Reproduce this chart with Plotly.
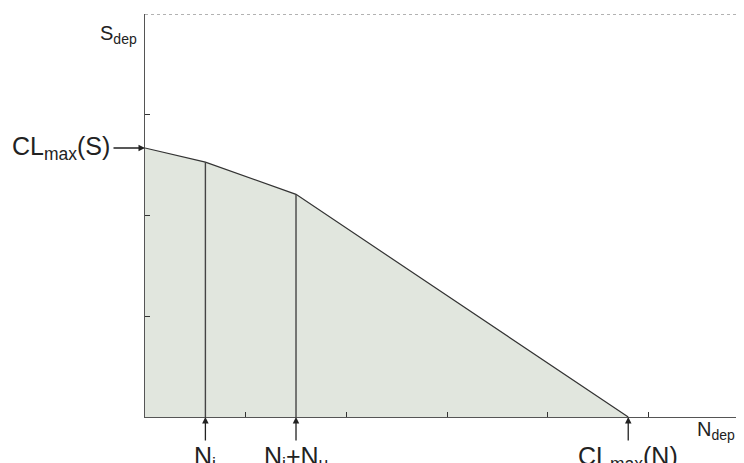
import plotly.graph_objects as go

# Data (in axis units; tick spacing = 1)
x_pts = [0, 0.6, 1.5, 4.8]
y_pts = [2.67, 2.53, 2.21, 0]
x_labels = ["N<sub>i</sub>", "N<sub>i</sub>+N<sub>u</sub>", "CL<sub>max</sub>(N)"]
x_label_pos = [x_pts[1], x_pts[2], x_pts[3]]
y_label = "CL<sub>max</sub>(S)"
x_title = "N<sub>dep</sub>"
y_title = "S<sub>dep</sub>"
x_max = 5.95
y_max = 4

FONT = "Liberation Sans, Arial, sans-serif"
fig = go.Figure()

fig.add_trace(go.Scatter(
    x=x_pts, y=y_pts, mode="lines", fill="tozeroy",
    fillcolor="rgb(225,230,222)", line=dict(color="#333333", width=1.2),
    hoverinfo="skip", showlegend=False))

for i in (1, 2):
    fig.add_trace(go.Scatter(
        x=[x_pts[i], x_pts[i]], y=[0, y_pts[i]], mode="lines",
        line=dict(color="#444444", width=1.4), hoverinfo="skip", showlegend=False))

# top dotted border
fig.add_shape(type="line", xref="x", yref="y", x0=0, x1=x_max, y0=y_max, y1=y_max,
              line=dict(color="#999999", width=1.5, dash="dot"))

annotations = []
annotations.append(dict(x=0, y=y_pts[0], xref="x", yref="y", text=y_label,
                        showarrow=True, ax=-84, ay=0, arrowhead=2, arrowsize=1,
                        arrowwidth=1.3, arrowcolor="#222222", borderpad=3,
                        font=dict(family=FONT, size=25, color="#222222")))
for xp, lab in zip(x_label_pos, x_labels):
    annotations.append(dict(x=xp, y=0, xref="x", yref="y", text=lab,
                            showarrow=True, ax=0, ay=41, arrowhead=2, arrowsize=1,
                            arrowwidth=1.3, arrowcolor="#222222", borderpad=1,
                            font=dict(family=FONT, size=25, color="#222222")))
annotations.append(dict(x=1, y=0, xref="paper", yref="paper", text=x_title,
                        showarrow=False, xanchor="right", yanchor="top", xshift=-7, yshift=1,
                        font=dict(family=FONT, size=20, color="#222222")))
annotations.append(dict(x=0, y=1, xref="paper", yref="paper", text=y_title,
                        showarrow=False, xanchor="right", yanchor="top", xshift=-6, yshift=-6,
                        font=dict(family=FONT, size=20, color="#222222")))

fig.update_layout(
    width=736, height=455,
    margin=dict(l=137, r=0, t=6, b=46),
    paper_bgcolor="white", plot_bgcolor="white",
    annotations=annotations,
    xaxis=dict(range=[0, x_max], dtick=1, tick0=0, showgrid=False, zeroline=False,
               showline=True, linecolor="#555555", linewidth=1.2, ticks="inside",
               ticklen=5, tickcolor="#333333", tickwidth=1, showticklabels=False),
    yaxis=dict(range=[0, y_max], dtick=1, tick0=0, showgrid=False, zeroline=False,
               showline=True, linecolor="#555555", linewidth=1.2, ticks="inside",
               ticklen=5, tickcolor="#333333", tickwidth=1, showticklabels=False),
)

fig.write_html("out.html")
